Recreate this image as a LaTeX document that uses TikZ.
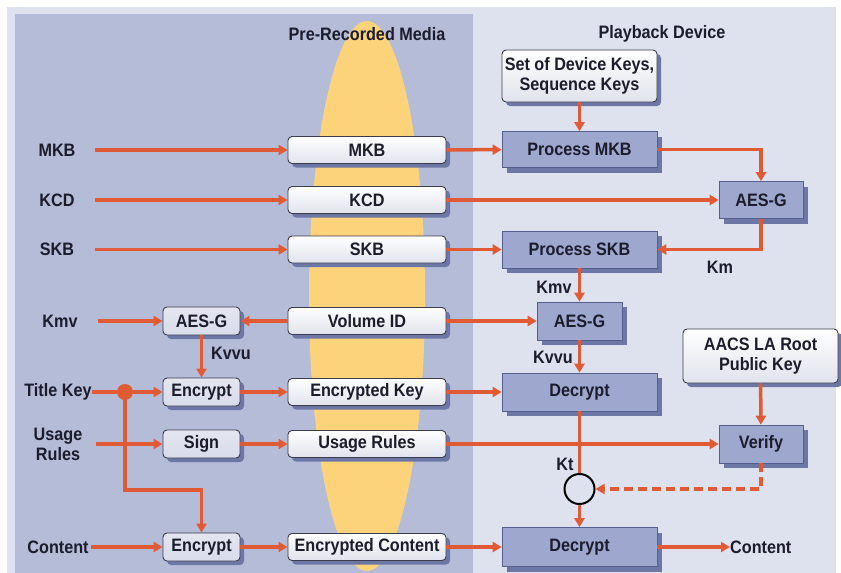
\documentclass[tikz,border=0pt]{standalone}
\usepackage{fontspec}
\setmainfont{Liberation Sans}[FakeStretch=0.9]
\usetikzlibrary{shadows,arrows.meta,calc}
\definecolor{bgc}{HTML}{DEE2EE}
\definecolor{leftc}{HTML}{B4BCD8}
\definecolor{yel}{HTML}{FCD27A}
\definecolor{org}{HTML}{E05A36}
\definecolor{bluef}{HTML}{9EA8CF}
\definecolor{blued}{HTML}{56608F}
\definecolor{shad}{HTML}{6C77A6}
\definecolor{txt}{HTML}{1C1C2C}
\definecolor{smallf}{HTML}{D8DCEA}
\definecolor{wbot}{HTML}{E0E3EC}
\definecolor{wbord}{HTML}{3C3C4C}
\begin{document}
\begin{tikzpicture}[x=1pt,y=-1pt,
  every node/.style={font=\fontsize{18}{20}\selectfont\bfseries, text=txt, inner sep=0pt},
  lbl/.style={minimum width=76, align=center},
  wbox/.style={draw=wbord, line width=0.9pt, rounded corners=4pt, top color=white, bottom color=wbot,
    drop shadow={shadow xshift=4pt, shadow yshift=-4pt, fill=shad, opacity=1}, align=center},
  midbox/.style={wbox, minimum width=158, minimum height=27},
  smallbox/.style={draw=wbord, line width=0.9pt, rounded corners=4pt, top color=white!30!smallf, bottom color=smallf,
    drop shadow={shadow xshift=4pt, shadow yshift=-4pt, fill=shad, opacity=1}, minimum width=77, minimum height=28},
  bbox/.style={draw=blued, line width=0.6pt, fill=bluef,
    drop shadow={shadow xshift=5pt, shadow yshift=-5pt, fill=shad, opacity=1}},
  wide/.style={bbox, minimum width=155},
  narrow/.style={bbox, minimum width=84},
  ln/.style={draw=org, line width=3.5pt, line join=miter},
  arr/.style={ln, -{Triangle[length=9pt,width=10pt]}}
]
\useasboundingbox (0,0) rectangle (841,573);
% background
\fill[white] (0,0) rectangle (841,573);
\fill[bgc] (7,7) rectangle (836,573);
\fill[leftc] (15,14) rectangle (473,573);
\fill[yel] (367,296) ellipse [x radius=58, y radius=275];

% titles
\node (tMedia) at (367,34) {Pre-Recorded Media};
\node (tDev) at (662,34) {Playback Device};

% left labels
\node[lbl] (lMKB) at (57,150) {MKB};
\node[lbl] (lKCD) at (57,200) {KCD};
\node[lbl] (lSKB) at (57,249.5) {SKB};
\node[lbl] (lKmv) at (60,321) {Kmv};
\node[lbl, minimum width=68] (lTK) at (58,392) {Title Key};
\node[lbl] (lUR) at (58,444) {Usage\\Rules};
\node[lbl, minimum width=66] (lCont) at (58,547) {Content};

% media boxes
\node[midbox] (mMKB) at (367,150) {MKB};
\node[midbox] (mKCD) at (367,200) {KCD};
\node[midbox] (mSKB) at (367,249.5) {SKB};
\node[midbox] (mVID) at (367,321) {Volume ID};
\node[midbox] (mEK) at (367,392) {Encrypted Key};
\node[midbox] (mUR) at (367,444) {Usage Rules};
\node[midbox] (mEC) at (367,547) {Encrypted Content};

% small left boxes
\node[smallbox] (sAES) at (201.5,321) {AES-G};
\node[smallbox] (sEnc) at (201.5,392) {Encrypt};
\node[smallbox] (sSign) at (201.5,444) {Sign};
\node[smallbox] (sEnc2) at (201.5,547) {Encrypt};

% device side
\node[wbox, minimum width=155, minimum height=52] (devkeys) at (579.5,76) {Set of Device Keys,\\Sequence Keys};
\node[wbox, minimum width=155, minimum height=54] (aacs) at (760.5,356) {AACS LA Root\\Public Key};
\node[wide, minimum height=36] (pMKB) at (579.5,149.5) {Process MKB};
\node[narrow, minimum height=37] (aes1) at (761,200) {AES-G};
\node[wide, minimum height=37] (pSKB) at (579.5,249.5) {Process SKB};
\node[bbox, minimum width=85, minimum height=38] (aes2) at (579.5,321) {AES-G};
\node[wide, minimum height=38] (dec1) at (579.5,392) {Decrypt};
\node[narrow, minimum height=38] (verify) at (761,444) {Verify};
\node[wide, minimum height=39] (dec2) at (579.5,547) {Decrypt};
\node[circle, draw=black, line width=2pt, minimum size=30] (circ) at (579.5,489) {};
\node[circle, fill=org, minimum size=16] (dot) at (125,392) {};
\node[anchor=west] (outC) at (730,547) {Content};
\coordinate (bend) at (125,490);

% key labels
\node (kvvuL) at (231,353) {Kvvu};
\node (km) at (720,267) {Km};
\node (kmv) at (554,287) {Kmv};
\node (kvvuR) at (553,357) {Kvvu};
\node (kt) at (565,464) {Kt};

% connectors
\draw[arr] (lMKB) -- (mMKB);
\draw[arr] (lKCD) -- (mKCD);
\draw[arr] (lSKB) -- (mSKB);
\draw[arr] (lKmv) -- (sAES);
\draw[ln] (lTK) -- (dot);
\draw[arr] (dot) -- (sEnc);
\draw[arr] (dot.center) -- (bend) -| (sEnc2.north);
\draw[arr] (lUR) -- (sSign);
\draw[arr] (lCont) -- (sEnc2);
\draw[arr] (mVID) -- (sAES);
\draw[arr] (sAES) -- (sEnc);
\draw[arr] (sEnc) -- (mEK);
\draw[arr] (sSign) -- (mUR);
\draw[arr] (sEnc2) -- (mEC);

\draw[arr] (mMKB) -- (pMKB);
\draw[arr] (mKCD) -- (aes1);
\draw[arr] (mSKB) -- (pSKB);
\draw[arr] (devkeys) -- (pMKB);
\draw[arr] (pMKB.east) -| (aes1.north);
\draw[arr] (aes1.south) |- (pSKB.east);
\draw[arr] (pSKB) -- (aes2);
\draw[arr] (mVID) -- (aes2);
\draw[arr] (aes2) -- (dec1);
\draw[arr] (mEK) -- (dec1);
\draw[ln] (dec1) -- (circ);
\draw[arr] (mUR) -- (verify);
\draw[arr] (aacs) -- (verify);
\draw[arr, dash pattern=on 9pt off 5pt] (verify.south) |- (circ.east);
\draw[arr] (circ) -- (dec2);
\draw[arr] (mEC) -- (dec2);
\draw[arr] (dec2) -- (outC);
\end{tikzpicture}
\end{document}
